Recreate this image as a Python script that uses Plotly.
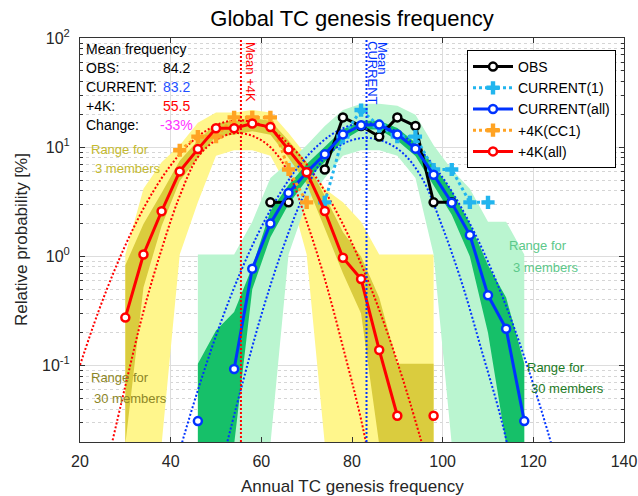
import plotly.graph_objects as go

FLOOR = 0.019  # zero counts drawn at the bottom of the log axis

# ---------------- data ----------------
bins_4k = [30, 34, 38, 42, 46, 50, 54, 58, 62, 66, 70, 74, 78, 82, 86, 90, 94, 98]
bins_cur = [46, 50, 54, 58, 62, 66, 70, 74, 78, 82, 86, 90, 94, 98, 102, 106, 110, 114, 118]

obs_x = [62, 66, 70, 74, 78, 82, 86, 90, 94, 98, 102]
obs_y = [3.125, 3.125, None, 6.25, 18.75, 15.625, 12.5, 18.75, 15.625, 3.125, 3.125]

cur1_x = [74, 78, 82, 86, 90, 94, 98, 102, 106, 110]
cur1_y = [3.125, 12.5, 21.875, 15.625, 12.5, 12.5, 6.25, 6.25, 3.125, 3.125]

curall_y = [0.031, None, 0.093, 0.77, 2.0, 3.8, 5.9, 8.6, 13.1, 15.9, 16.1, 13.1, 9.7,
            5.6, 3.1, 1.57, 0.44, 0.217, 0.031]

cc1_x = [42, 46, 50, 54, 58, 62, 66, 70]
cc1_y = [9.375, 12.5, 12.5, 18.75, 18.75, 18.75, 6.25, 3.125]

k4all_y = [0.275, 1.04, 2.59, 6.0, 9.6, 14.9, 14.9, 16.5, 15.3, 9.5, 5.9, 2.6, 0.97,
           0.62, 0.139, 0.0347, None, 0.0347]

# ranges (+4K)
k4_r3_max = [1.04, 4.17, 7.29, 10.4, 16.7, 20.8, 20.8, 21.9, 20.8, 13.5, 8.33, 4.17,
             3.13, 2.08, 1.04, 1.04, 1.04, 1.04]
k4_r3_min = [0, 0, 0, 1.04, 3.13, 8.33, 9.38, 9.38, 8.33, 4.17, 1.04, 0, 0, 0, 0, 0, 0, 0]
k4_r30_max = [0.83, 1.98, 3.8, 7.5, 11.5, 16.5, 17.5, 18.5, 17.5, 11.5, 7.3, 3.6, 1.67,
              1.0, 0.42, 0.104, 0.104, 0.104]
k4_r30_min = [0, 0.52, 1.9, 4.9, 8.0, 12.5, 13.0, 14.0, 13.0, 8.0, 4.6, 1.8, 0.7, 0.3,
              0, 0, 0, 0]
# ranges (CURRENT)
cur_r3_max = [1.04, 1.04, 1.04, 2.08, 5.21, 7.29, 10.4, 15.6, 21.9, 25.0, 25.0, 24.0,
              19.8, 10.4, 6.25, 4.17, 2.08, 2.08, 1.04]
cur_r3_min = [0, 0, 0, 0, 0, 1.04, 3.13, 5.21, 8.33, 9.38, 9.38, 8.33, 5.21, 1.04, 0,
              0, 0, 0, 0]
cur_r30_max = [0.104, 0.21, 0.31, 0.8, 2.6, 4.5, 7.0, 10.0, 14.5, 17.5, 17.5, 15.0, 11.0,
               6.8, 4.0, 2.0, 0.83, 0.42, 0.104]
cur_r30_min = [0, 0, 0, 0.5, 1.5, 3.0, 5.0, 7.3, 11.5, 14.5, 14.5, 11.5, 8.3, 4.5, 2.4,
               1.0, 0.2, 0, 0]

# fitted distribution envelopes
k4_wide_x = [20, 24, 28, 32, 36, 40, 44, 48, 52, 56, 60, 64, 68, 72, 76, 80, 84, 88, 92, 96]
k4_wide_y = [0.101, 0.307, 0.815, 1.89, 3.84, 6.81, 10.6, 14.3, 17.0, 17.6, 16.0, 12.7,
             8.81, 5.35, 2.84, 1.32, 0.535, 0.190, 0.0589, 0.016]
k4_narrow_x = [26, 30, 34, 38, 42, 46, 50, 54, 58, 62, 66, 70, 74, 78, 82, 86]
k4_narrow_y = [0.0126, 0.065, 0.313, 1.16, 3.57, 8.1, 11.6, 13.4, 12.7, 10.0, 5.82, 2.08,
               0.62, 0.148, 0.032, 0.0047]
cur_wide_x = [39.2, 43.2, 47.2, 51.2, 55.2, 59.2, 63.2, 67.2, 71.2, 75.2, 79.2, 83.2, 87.2,
              91.2, 95.2, 99.2, 103.2, 107.2, 111.2, 115.2, 119.2, 123.2, 127.2]
cur_wide_y = [0.0063, 0.0247, 0.085, 0.258, 0.684, 1.59, 3.26, 5.86, 9.24, 12.8, 15.6, 16.6,
              15.6, 12.8, 9.24, 5.86, 3.26, 1.59, 0.684, 0.258, 0.085, 0.0247, 0.0063]
cur_narrow_x = [51.0, 55.4, 59.9, 64.3, 68.8, 73.2, 77.6, 82.1, 86.5, 91.0, 95.4, 99.9,
                104.3, 108.7, 113.2, 117.6]
cur_narrow_y = [0.0114, 0.0586, 0.282, 1.05, 3.22, 7.3, 10.5, 12.1, 11.5, 9.0, 5.25, 1.88,
                0.56, 0.133, 0.029, 0.0042]

mean_obs, mean_cur, mean_4k = 84.2, 83.2, 55.5
change_pct = -33

# ---------------- colours ----------------
C_L3Y = "rgb(255,246,140)"
C_D30Y = "rgb(218,204,62)"
C_L3G = "rgb(186,245,208)"
C_D30G = "rgb(22,192,105)"
RED = "#FF0000"
BLUE = "#0033FF"
CYAN = "#22B5EE"
ORANGE = "#FFA323"

fig = go.Figure()


def band(xs, lo, hi, color):
    lo2 = [v if v > 0 else FLOOR for v in lo]
    fig.add_trace(go.Scatter(
        x=list(xs) + list(xs)[::-1], y=list(hi) + lo2[::-1],
        fill="toself", fillcolor=color, mode="lines",
        line=dict(width=0, color=color), showlegend=False, hoverinfo="skip"))


band(bins_4k, k4_r3_min, k4_r3_max, C_L3Y)
band(bins_cur, cur_r3_min, cur_r3_max, C_L3G)
band(bins_4k, k4_r30_min, k4_r30_max, C_D30Y)
band(bins_cur, cur_r30_min, cur_r30_max, C_D30G)

for xs, ys, col in [(k4_wide_x, k4_wide_y, RED), (k4_narrow_x, k4_narrow_y, RED),
                    (cur_wide_x, cur_wide_y, BLUE), (cur_narrow_x, cur_narrow_y, BLUE)]:
    fig.add_trace(go.Scatter(x=xs, y=ys, mode="lines",
                             line=dict(color=col, width=2, dash="2px,2px", shape="spline"),
                             showlegend=False, hoverinfo="skip"))

# mean lines
fig.add_shape(type="line", xref="x", yref="paper", x0=mean_4k, x1=mean_4k, y0=0, y1=1,
              line=dict(color=RED, width=2, dash="2px,2px"))
fig.add_shape(type="line", xref="x", yref="paper", x0=mean_cur, x1=mean_cur, y0=0, y1=1,
              line=dict(color=BLUE, width=2, dash="2px,2px"))

circ = lambda c: dict(symbol="circle", size=8, color="white", line=dict(color=c, width=2.5))

fig.add_trace(go.Scatter(x=obs_x, y=obs_y, mode="lines+markers", name="OBS",
                         line=dict(color="black", width=3), marker=circ("black")))
fig.add_trace(go.Scatter(x=cur1_x, y=cur1_y, mode="lines+markers", name="CURRENT(1)",
                         line=dict(color=CYAN, width=3, dash="dot"),
                         marker=dict(symbol="cross", size=11, color=CYAN)))
fig.add_trace(go.Scatter(x=bins_cur, y=curall_y, mode="lines+markers", name="CURRENT(all)",
                         line=dict(color=BLUE, width=3), marker=circ(BLUE)))
fig.add_trace(go.Scatter(x=cc1_x, y=cc1_y, mode="lines+markers", name="+4K(CC1)",
                         line=dict(color=ORANGE, width=3, dash="dot"),
                         marker=dict(symbol="cross", size=11, color=ORANGE)))
fig.add_trace(go.Scatter(x=bins_4k, y=k4all_y, mode="lines+markers", name="+4K(all)",
                         line=dict(color=RED, width=3), marker=circ(RED)))

# ---------------- layout ----------------
W, H = 638, 496
SX0, SX1, SY0, SY1 = 80, 624, 38, 442   # plot area in page pixels
L, T, R, B = SX0, SY0, W - SX1, H - SY1
pw, ph = SX1 - SX0, SY1 - SY0


def px(xp):
    return (xp - SX0) / pw


def py(yp):
    return (SY1 - yp) / ph


ann = []


def text(xp, yp, s, color="black", size=14, xanchor="left", angle=0, align="left"):
    ann.append(dict(x=px(xp), y=py(yp), xref="paper", yref="paper", text=s,
                    showarrow=False, xanchor=xanchor, yanchor="middle",
                    font=dict(color=color, size=size), textangle=angle, align=align))


text(84, 49, "Mean frequency")
text(84, 68, "OBS:")
text(192, 68, f"{mean_obs}", xanchor="right")
text(84, 87, "CURRENT:")
text(192, 87, f"{mean_cur}", color="#1E50FF", xanchor="right")
text(84, 106, "+4K:")
text(192, 106, f"{mean_4k}", color=RED, xanchor="right")
text(84, 125, "Change:")
text(195, 125, f"{change_pct}%", color="#FF33FF", xanchor="right")

text(89, 149, "Range for", color="#C4B92E", size=13)
text(93, 169, "3 members", color="#C4B92E", size=13)
text(89, 377, "Range for", color="#8C8526", size=13)
text(92, 398, "30 members", color="#8C8526", size=13)
text(507, 245, "Range for", color="#5CC88A", size=13)
text(511, 267, "3 members", color="#5CC88A", size=13)
text(525, 367, "Range for", color="#1C7A25", size=13)
text(529, 388, "30 members", color="#1C7A25", size=13)

text(250, 72, "Mean +4K", color=RED, size=13, xanchor="center", angle=90)
text(383, 58, "Mean", color=BLUE, size=13, xanchor="center", angle=90)
text(372, 73, "CURRENT", color=BLUE, size=13, xanchor="center", angle=90)

text(352, 486, "Annual TC genesis frequency", color="#262626", size=17, xanchor="center")
text(21, 240, "Relative probability [%]", color="#262626", size=17, xanchor="center",
     angle=-90, align="center")

minor_vals = [m * 10 ** e for e in (-2, -1, 0, 1) for m in range(2, 10)]

fig.update_layout(
    width=W, height=H, margin=dict(l=L, r=R, t=T, b=B, autoexpand=False),
    plot_bgcolor="white", paper_bgcolor="white",
    font=dict(family="Liberation Sans, Arial, sans-serif", color="#262626"),
    title=dict(text="Global TC genesis frequency", x=px(352), xref="paper", xanchor="center",
               y=1 - 18 / H, yref="container", yanchor="middle",
               font=dict(size=22, color="black")),
    annotations=ann,
    legend=dict(x=px(467), y=py(50), xanchor="left", yanchor="top",
                bgcolor="white", bordercolor="black", borderwidth=1,
                font=dict(size=14, color="black"), itemwidth=40, tracegroupgap=0),
    xaxis=dict(range=[20, 140], tickvals=[20, 40, 60, 80, 100, 120, 140],
               showgrid=True, gridcolor="#DDDDDD", gridwidth=1, zeroline=False,
               showline=True, linecolor="#333333", linewidth=1, mirror="ticks",
               ticks="inside", ticklen=5, tickcolor="#333333",
               tickfont=dict(size=16, color="#262626"), ticklabelstandoff=5),
    yaxis=dict(type="log", range=[-1.7, 2], tickvals=[0.1, 1, 10, 100],
               ticktext=["10<sup>-1</sup>", "10<sup>0</sup>", "10<sup>1</sup>", "10<sup>2</sup>"],
               showgrid=True, gridcolor="#DDDDDD", gridwidth=1, zeroline=False,
               showline=True, linecolor="#333333", linewidth=1, mirror="ticks",
               ticks="inside", ticklen=5, tickcolor="#333333",
               tickfont=dict(size=16, color="#262626"), ticklabelstandoff=6,
               minor=dict(tickvals=minor_vals, ticks="inside", ticklen=3, tickcolor="#333333",
                          showgrid=True, gridcolor="#D5D5D5", griddash="dot", gridwidth=1)),
)

# remove the default 8px page margin so the figure fills the 638x496 window exactly
fig.write_html("out.html", config={"displayModeBar": False},
               post_script="document.body.style.margin='0';document.body.style.overflow='hidden';")
